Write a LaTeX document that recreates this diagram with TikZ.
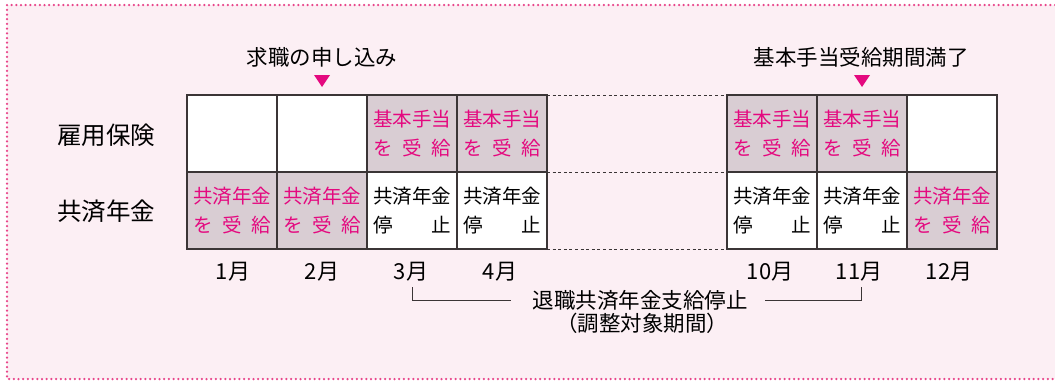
\documentclass[tikz,border=0pt]{standalone}
\usepackage{fontspec}
\setmainfont{Noto Sans CJK JP}
\definecolor{mag}{HTML}{E4097F}
\definecolor{cellgray}{HTML}{D9CDD3}
\definecolor{bgpink}{HTML}{FCEFF4}
\definecolor{linec}{HTML}{3B3536}
\definecolor{dotc}{HTML}{E8458A}
\newcommand\ukekyu{\makebox[4em][s]{を\hfill{}受\hfill{}給}}
\newcommand\teishi{\makebox[4em][s]{停\hfill{}止}}
\begin{document}
\begin{tikzpicture}[x=1pt,y=-1pt,
  cell/.style={draw=linec, line width=1.2pt, minimum width=90pt, minimum height=77pt,
    inner sep=0pt, outer sep=0pt, anchor=north west, align=center,
    font=\fontsize{19.5}{29}\selectfont},
  paid/.style={cell, fill=cellgray, text=mag},
  plain/.style={cell, fill=white, text=black},
  rowlab/.style={font=\fontsize{24.5}{28}\selectfont, text=black},
  toplab/.style={font=\fontsize{21.5}{24}\selectfont, text=black},
  month/.style={font=\fontsize{22}{24}\selectfont, text=black},
  gap/.style={draw=linec, line width=0.9pt, dash pattern=on 3pt off 2.6pt},
  brk/.style={draw=linec, line width=1pt},
  tri/.style={fill=mag},
  dotline/.style={draw=dotc, line width=2.5pt, line cap=round, dash pattern=on 0pt off 4.7pt}]
\useasboundingbox (0,0) rectangle (1055,381);
\fill[white] (0,0) rectangle (1055,381);
\fill[bgpink] (7,5) rectangle (1055,379);
\draw[dotline] (1055,5) -- (7,5) -- (7,379) -- (1055,379);

% row labels
\node[rowlab] (lab1) at (106,135) {雇用保険};
\node[rowlab] (lab2) at (106,211) {共済年金};

% top row (雇用保険)
\node[plain] (t1) at (187,95) {};
\node[plain] (t2) at (277,95) {};
\node[paid] (t3) at (367,95) {基本手当\\\ukekyu};
\node[paid] (t4) at (457,95) {基本手当\\\ukekyu};
\node[paid] (t10) at (727,95) {基本手当\\\ukekyu};
\node[paid] (t11) at (817,95) {基本手当\\\ukekyu};
\node[plain] (t12) at (907,95) {};

% bottom row (共済年金)
\node[paid] (b1) at (187,172) {共済年金\\\ukekyu};
\node[paid] (b2) at (277,172) {共済年金\\\ukekyu};
\node[plain] (b3) at (367,172) {共済年金\\\teishi};
\node[plain] (b4) at (457,172) {共済年金\\\teishi};
\node[plain] (b10) at (727,172) {共済年金\\\teishi};
\node[plain] (b11) at (817,172) {共済年金\\\teishi};
\node[paid] (b12) at (907,172) {共済年金\\\ukekyu};

% dashed gap lines
\draw[gap] (t4.north east) -- (t10.north west);
\draw[gap] (b4.north east) -- (b10.north west);
\draw[gap] (b4.south east) -- (b10.south west);

% top labels and triangles
\node[toplab] (apply) at (322,57) {求職の申し込み};
\node[toplab] (expire) at (861,57) {基本手当受給期間満了};
\coordinate (tr1) at (322,75);
\coordinate (tr2) at (862,75);
\fill[tri] (tr1) ++(-8,0) -- ++(16,0) -- ++(-8,12) -- cycle;
\fill[tri] (tr2) ++(-8,0) -- ++(16,0) -- ++(-8,12) -- cycle;

% months
\node[month] (m1) at (233,272) {1月};
\node[month] (m2) at (322,272) {2月};
\node[month] (m3) at (411,272) {3月};
\node[month] (m4) at (500,272) {4月};
\node[month] (m10) at (770,272) {10月};
\node[month] (m11) at (859,272) {11月};
\node[month] (m12) at (949,272) {12月};

% bracket
\node[toplab] (stop) at (640,300) {退職共済年金支給停止};
\node[toplab] (period) at (642,323) {（調整対象期間）};
\coordinate (bl) at (412,287);
\coordinate (br) at (861,287);
\draw[brk] (bl) |- ([xshift=-18pt]stop.west);
\draw[brk] ([xshift=14pt]stop.east) -| (br);
\end{tikzpicture}
\end{document}
